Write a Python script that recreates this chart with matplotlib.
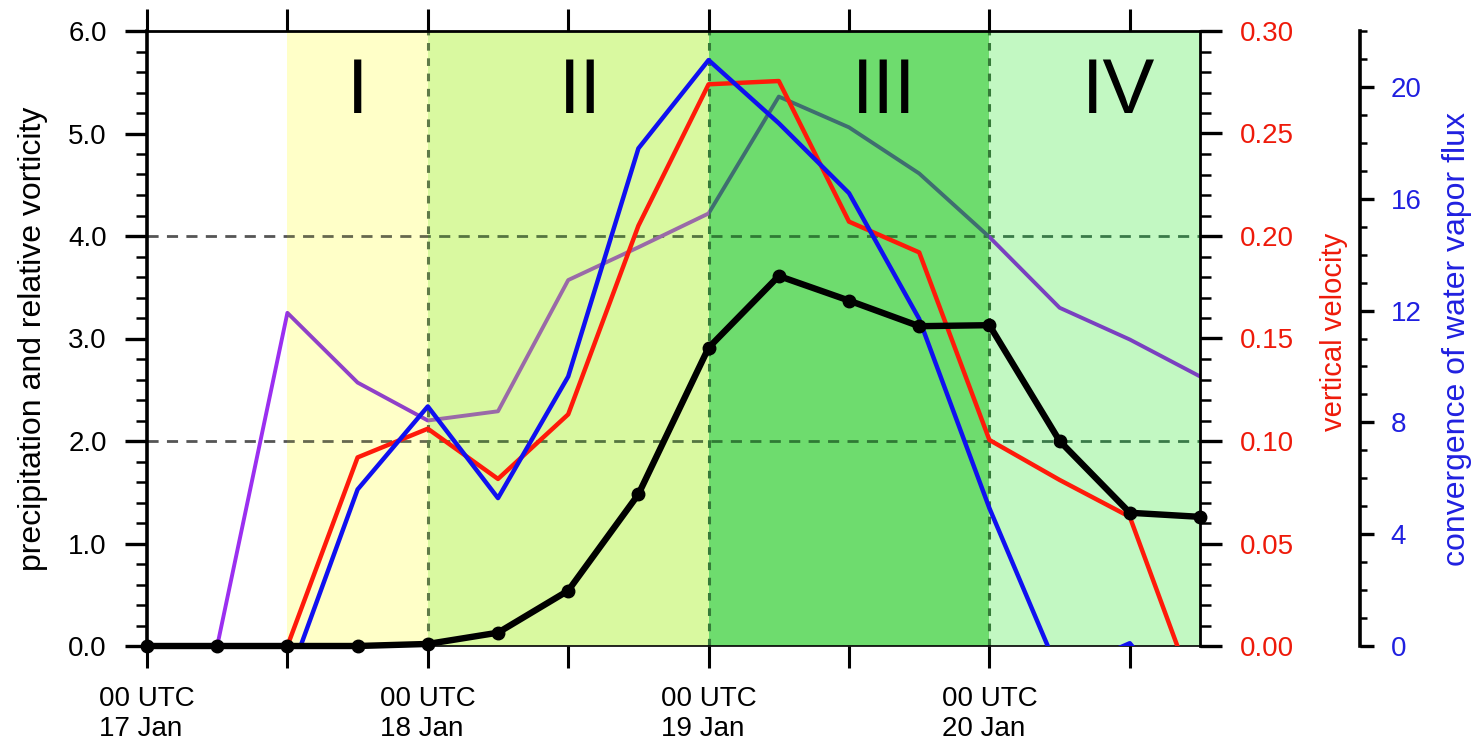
import numpy as np
import matplotlib
matplotlib.use("Agg")
import matplotlib.pyplot as plt
from matplotlib.patches import Rectangle
from matplotlib.ticker import MultipleLocator, FormatStrFormatter, FixedLocator

plt.rcParams['font.family'] = ['Liberation Sans', 'DejaVu Sans']

# ---------------- data ----------------
hours = [0, 6, 12, 18, 24, 30, 36, 42, 48, 54, 60, 66, 72, 78, 84, 90]
precip = [0.0, 0.0, 0.0, 0.0, 0.02, 0.13, 0.54, 1.48, 2.91, 3.61, 3.37, 3.12, 3.13, 2.0, 1.30, 1.26]
vorticity = [0.0, 0.0, 3.25, 2.57, 2.2, 2.29, 3.57, 3.89, 4.22, 5.36, 5.06, 4.61, 3.99, 3.30, 2.99, 2.63]
vert_vel = [np.nan, np.nan, 0.0, 0.092, 0.106, 0.0815, 0.113, 0.205, 0.274, 0.2756, 0.207, 0.192, 0.1005, 0.081, 0.063, -0.03]
conv_wv = [np.nan, np.nan, -1.3, 5.6, 8.57, 5.29, 9.64, 17.8, 20.96, 18.7, 16.2, 11.7, 4.93, -1.0, 0.1, -3.0]

xtick_pos = [0, 12, 24, 36, 48, 60, 72, 84]
xtick_labels = ["00 UTC\n17 Jan", "", "00 UTC\n18 Jan", "", "00 UTC\n19 Jan", "",
                "00 UTC\n20 Jan", ""]

region_bounds = [0, 12, 24, 48, 72, 90]
region_colors = ['#ffffff', '#ffffc8', '#d9f9a0', '#6edc6e', '#c2f8c2']
purple_colors = ['#9b2ff0', '#9040c8', '#9a6aa8', '#3f6e70', '#7a40c0']
grid_colors = ['#555555', '#66684e', '#557540', '#2f7a34', '#3a7a48']
stage_labels = ['I', 'II', 'III', 'IV']
stage_x = [18, 37, 63, 83]

# ---------------- figure ----------------
W, H = 1473, 748
fig = plt.figure(figsize=(W / 100, H / 100), dpi=100)
rect = [147 / W, 102 / H, 1053 / W, 615 / H]
ax = fig.add_axes(rect)
ax.set_zorder(1)
ax.set_xlim(0, 90)
ax.set_ylim(0, 6)

# background stages
for i in range(len(region_colors)):
    ax.axvspan(region_bounds[i], region_bounds[i + 1], color=region_colors[i], lw=0, zorder=0)


def clip_rect(i):
    return Rectangle((region_bounds[i], -100), region_bounds[i + 1] - region_bounds[i], 200,
                     transform=ax.transData)


# horizontal dashed grid lines, coloured per stage
for yv in [2.0, 4.0]:
    for i in range(len(region_colors)):
        ln = ax.axhline(yv, color=grid_colors[i], lw=2.0, ls=(0, (4, 3)), zorder=1)
        ln.set_clip_path(clip_rect(i))
for xv, c in zip([24, 48, 72], ['#5f7a48', '#357a38', '#357a38']):
    ax.axvline(xv, color=c, lw=2.2, ls=(0, (2.5, 2.5)), zorder=1)

# relative vorticity (purple, appears tinted by shading)
for i in range(len(region_colors)):
    ln, = ax.plot(hours, vorticity, color=purple_colors[i], lw=2.8, zorder=2)
    ln.set_clip_path(clip_rect(i))

for lab, xs in zip(stage_labels, stage_x):
    ax.text(xs, 5.4, lab, ha='center', va='center', fontsize=56, color='black', zorder=3)

# axes styling (left)
ax.set_xticks(xtick_pos)
ax.set_xticklabels(xtick_labels, fontsize=20, ma='left')
ax.xaxis.set_ticks_position('both')
ax.tick_params(axis='x', which='major', direction='out', length=16, width=2.2, pad=13,
               top=True, labeltop=False)
ax.yaxis.set_major_locator(MultipleLocator(1.0))
ax.yaxis.set_minor_locator(MultipleLocator(0.2))
ax.yaxis.set_major_formatter(FormatStrFormatter('%.1f'))
ax.tick_params(axis='y', which='major', direction='out', length=16, width=2.4, pad=13, labelsize=20)
ax.tick_params(axis='y', which='minor', direction='out', length=8, width=1.8)
ax.tick_params(axis='y', right=False, which='both')
ax.spines['left'].set_linewidth(2.6)
ax.spines['top'].set_linewidth(2.0)
ax.spines['bottom'].set_linewidth(1.2)
ax.spines['right'].set_visible(False)
ax.set_ylabel('precipitation and relative vorticity', fontsize=23)
ax.yaxis.set_label_coords(-0.094, 0.5)

# vertical velocity axis
ax2 = ax.twinx()
ax2.set_zorder(2)
ax2.set_ylim(0, 0.30)
ax2.plot(hours, vert_vel, color='#ff1a0a', lw=3.2)
ax2.yaxis.set_major_locator(MultipleLocator(0.05))
ax2.yaxis.set_minor_locator(MultipleLocator(0.01))
ax2.yaxis.set_major_formatter(FormatStrFormatter('%.2f'))
ax2.tick_params(axis='y', which='major', direction='out', length=16, width=2.4, pad=13,
                labelsize=20, labelcolor='#ee1a0a')
ax2.tick_params(axis='y', which='minor', direction='out', length=8, width=1.8)
for s in ['left', 'top', 'bottom']:
    ax2.spines[s].set_visible(False)
ax2.spines['right'].set_linewidth(2.0)
ax2.set_ylabel('vertical velocity', fontsize=21, color='#ee1a0a', rotation=90)
ax2.yaxis.set_label_coords(1.114, 0.51)

# convergence of water vapour flux axis
ax3 = ax.twinx()
ax3.set_zorder(3)
ax3.set_ylim(0, 22)
ax3.plot(hours, conv_wv, color='#1010f0', lw=3.2)
ax3.spines['right'].set_position(('outward', 115.2))
for s in ['left', 'top', 'bottom']:
    ax3.spines[s].set_visible(False)
ax3.spines['right'].set_linewidth(2.6)
ax3.yaxis.set_major_locator(FixedLocator([0, 4, 8, 12, 16, 20]))
ax3.yaxis.set_minor_locator(MultipleLocator(1))
ax3.tick_params(axis='y', which='major', direction='out', length=10, width=2.4, pad=12,
                labelsize=20, labelcolor='#2020e0')
ax3.tick_params(axis='y', which='minor', direction='out', length=5, width=1.8)
ax3.set_ylabel('convergence of water vapor flux', fontsize=23, color='#2020e0', rotation=90)
ax3.yaxis.set_label_coords(1.2295, 0.5)

# precipitation on top
top = fig.add_axes(rect, sharex=ax, sharey=ax, label='top')
top.set_zorder(4)
top.patch.set_visible(False)
top.set_axis_off()
top.plot(hours, precip, color='black', lw=4.6, marker='o', markersize=9, clip_on=False)

fig.savefig('out.png', dpi=100)
